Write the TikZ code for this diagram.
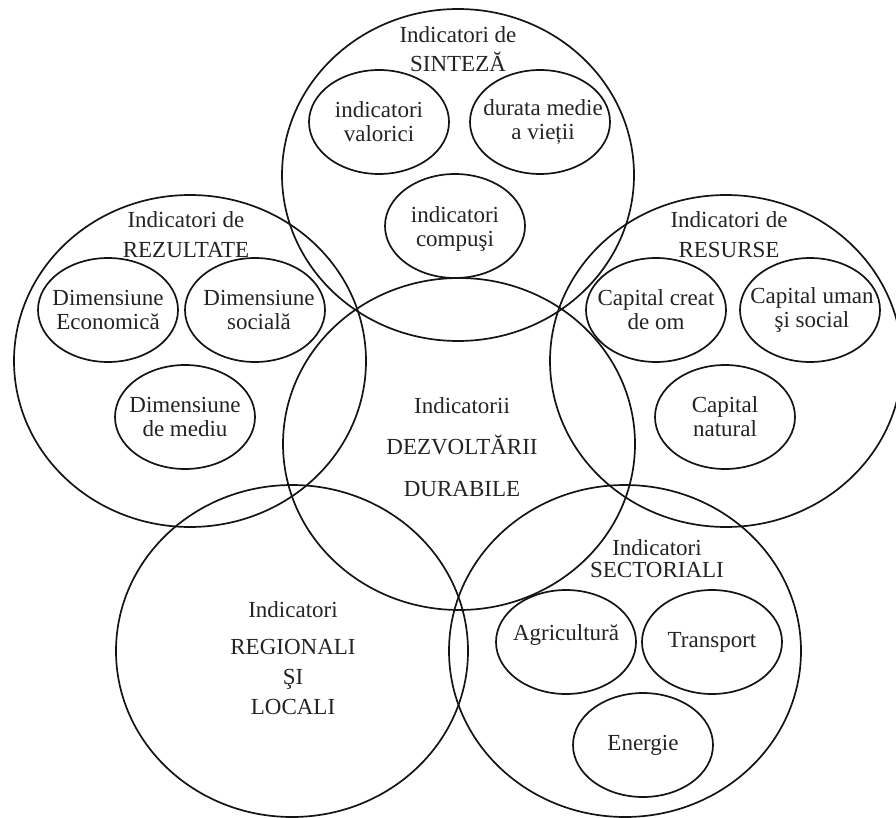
\documentclass[tikz,border=0pt]{standalone}
\usepackage{fontspec}
\setmainfont{Liberation Serif}
\usetikzlibrary{shapes.geometric}
\definecolor{txt}{RGB}{35,35,35}
\definecolor{ln}{RGB}{20,20,20}
\begin{document}
\begin{tikzpicture}[x=1pt,y=-1pt,
  big/.style={draw=ln, ellipse, line width=1.7pt, minimum width=352pt, minimum height=332pt, inner sep=0pt},
  small/.style={draw=ln, ellipse, line width=1.7pt, minimum width=140pt, minimum height=104pt, inner sep=0pt},
  intext/.style={inner sep=0pt, align=center, font=\fontsize{23}{24}\selectfont, text=txt},
  lbl/.style={anchor=base, inner sep=0pt, font=\fontsize{23}{24}\selectfont, text=txt}]
\useasboundingbox (0,0) rectangle (896,818);
% big circles
\node[big] (top) at (458,175) {};
\node[big] (mid) at (459,444) {};
\node[big] (lft) at (190,361) {};
\node[big] (rgt) at (726,361) {};
\node[big] (bl) at (292,651) {};
\node[big] (br) at (625,651) {};
% top circle
\node[lbl] (t1) at (458,43) {Indicatori de};
\node[lbl] (t2) at (458,72) {SINTEZĂ};
\node[small] (tv) at (379,122) {};
\node[small] (td) at (540,122) {};
\node[small] (tc) at (455,226) {};
\node[intext] at (tv.center) {indicatori\\valorici};
\node[intext] at ([xshift=3pt]td.center) {durata medie\\a vieții};
\node[intext] at ([yshift=-3pt]tc.center) {indicatori\\compuşi};
% left circle
\node[lbl] (l1) at (186,228) {Indicatori de};
\node[lbl] (l2) at (186,258) {REZULTATE};
\node[small] (le) at (108,310) {};
\node[small] (ls) at (255,310) {};
\node[small] (lm) at (185,417) {};
\node[intext] at (le.center) {Dimensiune\\Economică};
\node[intext] at ([xshift=4pt]ls.center) {Dimensiune\\socială};
\node[intext] at (lm.center) {Dimensiune\\de mediu};
% right circle
\node[lbl] (r1) at (729,228) {Indicatori de};
\node[lbl] (r2) at (729,258) {RESURSE};
\node[small] (rc) at (656,310) {};
\node[small] (ru) at (810,310) {};
\node[small] (rn) at (725,417) {};
\node[intext] at (rc.center) {Capital creat\\de om};
\node[intext] at ([xshift=2pt]ru.center) {Capital uman\\şi social};
\node[intext] at (rn.center) {Capital\\natural};
% center
\node[lbl] (m1) at (462,413) {Indicatorii};
\node[lbl] (m2) at (462,454) {DEZVOLTĂRII};
\node[lbl] (m3) at (462,496) {DURABILE};
% bottom left
\node[lbl] (b1) at (293,617) {Indicatori};
\node[lbl] (b2) at (293,654) {REGIONALI};
\node[lbl] (b3) at (293,684) {ŞI};
\node[lbl] (b4) at (293,714) {LOCALI};
% bottom right
\node[lbl] (s1) at (657,555) {Indicatori};
\node[lbl] (s2) at (657,577) {SECTORIALI};
\node[small] (sa) at (566,642) {};
\node[small] (st) at (712,642) {};
\node[small] (se) at (643,745) {};
\node[intext] at ([yshift=7pt]sa.center) {Agricultură};
\node[intext] at (st.center) {Transport};
\node[intext] at (se.center) {Energie};
\end{tikzpicture}
\end{document}
